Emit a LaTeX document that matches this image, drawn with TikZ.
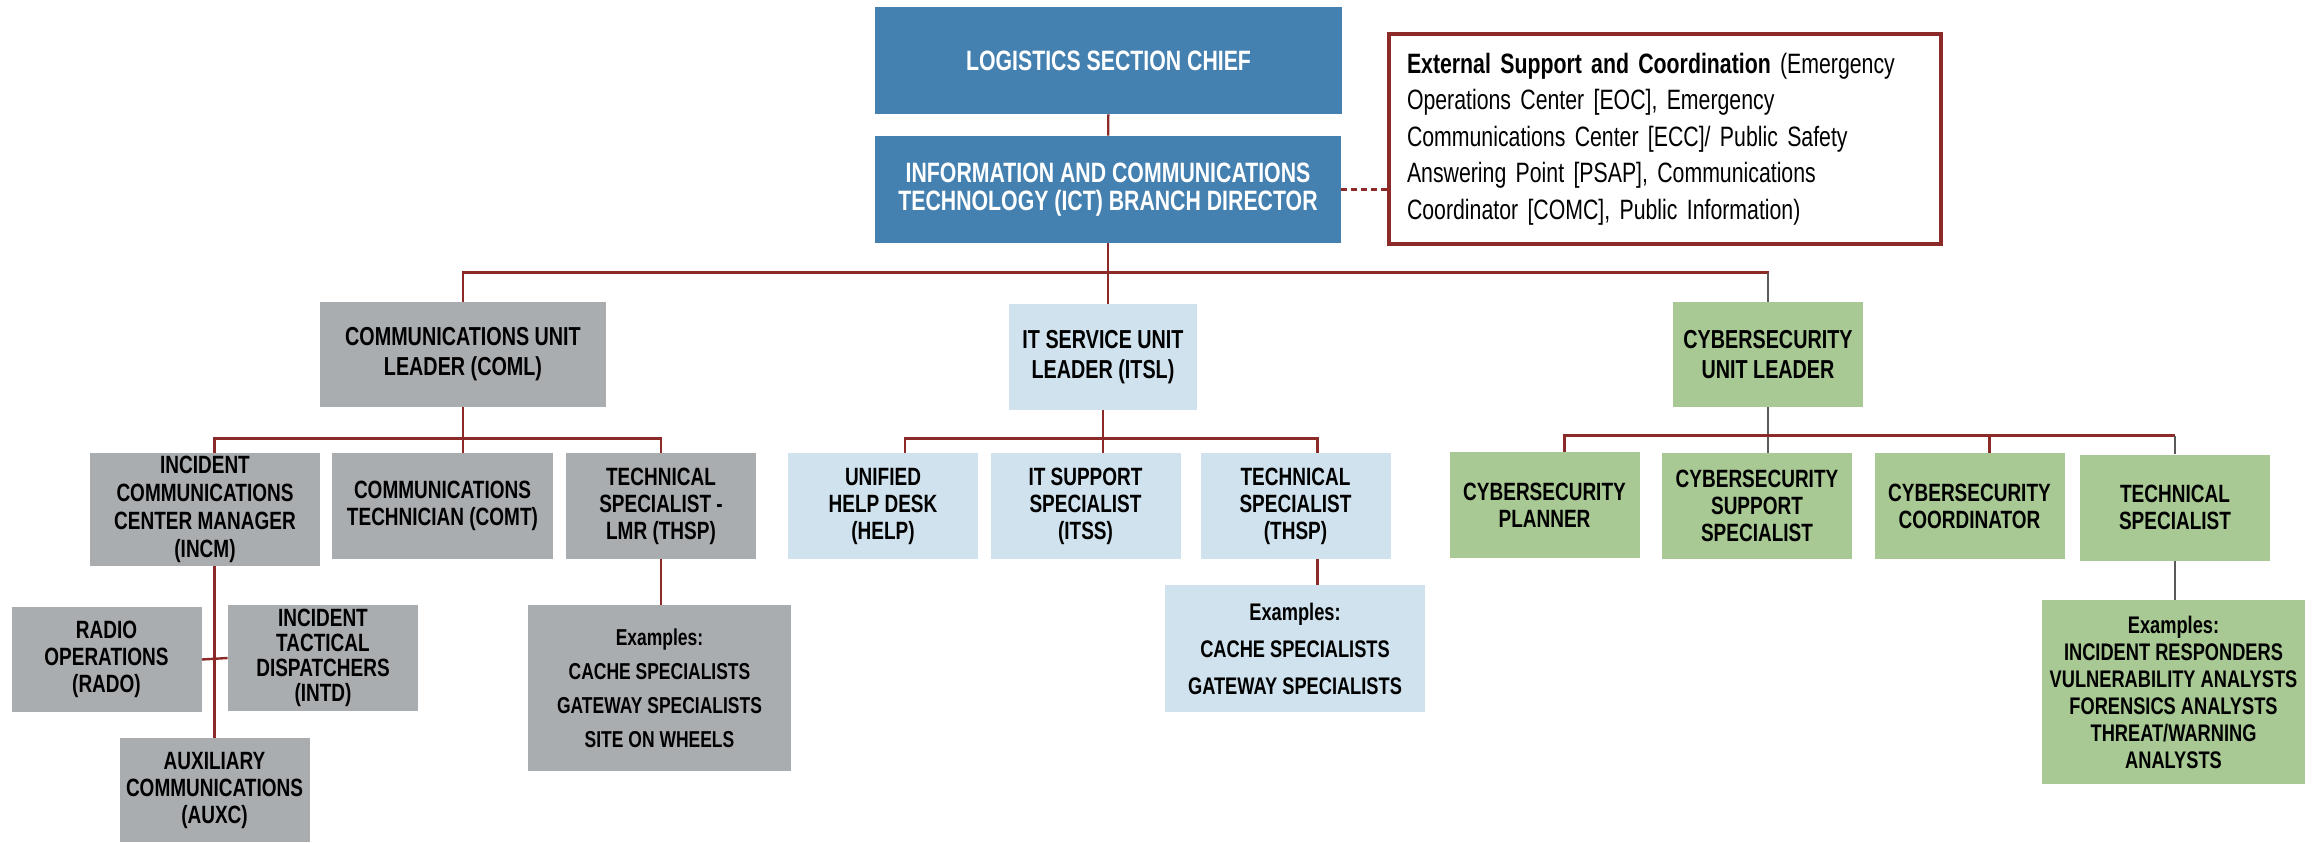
\documentclass[tikz,border=0pt]{standalone}
\usepackage{fontspec}
\newfontfamily\orgfont{Liberation Sans}[FakeStretch=0.76]
\definecolor{chiefblue}{RGB}{69,129,176}
\definecolor{unitgray}{RGB}{170,173,176}
\definecolor{itblue}{RGB}{207,226,237}
\definecolor{cybergreen}{RGB}{169,201,148}
\definecolor{linkred}{RGB}{140,42,42}
\definecolor{linkgray}{RGB}{90,90,90}
\begin{document}
\begin{tikzpicture}[
        x=0.5pt, y=-0.5pt,
        box/.style={inner sep=1pt, align=center, minimum width=95pt, minimum height=53pt,
          font=\orgfont\bfseries\fontsize{12.5}{13.5}\selectfont},
        bluebox/.style={box, fill=chiefblue, text=white, minimum height=53.5pt,
          font=\orgfont\bfseries\fontsize{14}{14}\selectfont},
        graybox/.style={box, fill=unitgray},
        itbox/.style={box, fill=itblue},
        cyberbox/.style={box, fill=cybergreen},
        unitfont/.style={font=\orgfont\bfseries\fontsize{13}{15}\selectfont},
        extbox/.style={draw=linkred, line width=2pt, fill=white, align=left,
          inner xsep=9pt, text width=258pt, minimum height=105pt,
          font=\orgfont\fontsize{14}{18.3}\selectfont},
        link/.style={draw=linkred, line width=1.2pt},
        graylink/.style={draw=linkgray, line width=0.8pt}
      ]
      \useasboundingbox (0,0) rectangle (2313,842);
      % top of the branch
      \node[bluebox, minimum width=233.5pt] (chief) at (1108.5,60.5) {LOGISTICS SECTION CHIEF};
      \node[bluebox, minimum width=233pt] (ict) at (1108,189.5) {INFORMATION AND COMMUNICATIONS\\TECHNOLOGY (ICT) BRANCH DIRECTOR};
      \node[extbox] (ext) at (1665,139) {\textbf{External Support and Coordination} (Emergency\\Operations Center [EOC], Emergency\\Communications Center [ECC]/ Public Safety\\Answering Point [PSAP], Communications\\Coordinator [COMC], Public Information)};
      % unit leaders
      \node[graybox, unitfont, minimum width=143pt, minimum height=52.5pt] (coml) at (463,354.5) {COMMUNICATIONS UNIT\\LEADER (COML)};
      \node[itbox, unitfont, minimum width=94pt] (itsl) at (1103,357) {IT SERVICE UNIT\\LEADER (ITSL)};
      \node[cyberbox, unitfont, minimum height=52.5pt] (cyl) at (1768,354.5) {CYBERSECURITY\\UNIT LEADER};
      % communications unit
      \node[graybox, minimum width=115pt, minimum height=56.5pt,
        font=\orgfont\bfseries\fontsize{12.5}{14}\selectfont] (incm) at (205,509.5) {INCIDENT\\COMMUNICATIONS\\CENTER MANAGER\\(INCM)};
      \node[graybox, minimum width=110.5pt] (comt) at (442.5,506) {COMMUNICATIONS\\TECHNICIAN (COMT)};
      \node[graybox] (lmr) at (661,506) {TECHNICAL\\SPECIALIST -\\LMR (THSP)};
      \node[graybox, minimum height=52.5pt] (rado) at (106.5,659.5) {RADIO\\OPERATIONS\\(RADO)};
      \node[graybox,
        font=\orgfont\bfseries\fontsize{12.5}{12.5}\selectfont] (intd) at (323,658) {INCIDENT\\TACTICAL\\DISPATCHERS\\(INTD)};
      \node[graybox, minimum height=52pt] (auxc) at (214.5,790) {AUXILIARY\\COMMUNICATIONS\\(AUXC)};
      \node[graybox, minimum width=131.5pt, minimum height=83pt,
        font=\orgfont\bfseries\fontsize{11.5}{17}\selectfont] (lmrex) at (659.5,688) {Examples:\\CACHE SPECIALISTS\\GATEWAY SPECIALISTS\\SITE ON WHEELS};
      % IT service unit
      \node[itbox] (help) at (883,506) {UNIFIED\\HELP DESK\\(HELP)};
      \node[itbox] (itss) at (1085.5,506) {IT SUPPORT\\SPECIALIST\\(ITSS)};
      \node[itbox] (thsp) at (1295.5,506) {TECHNICAL\\SPECIALIST\\(THSP)};
      \node[itbox, minimum width=130pt, minimum height=63.5pt,
        font=\orgfont\bfseries\fontsize{12}{18.5}\selectfont] (itex) at (1295,648.5) {Examples:\\CACHE SPECIALISTS\\GATEWAY SPECIALISTS};
      % cybersecurity unit
      \node[cyberbox] (plan) at (1544.5,505) {CYBERSECURITY\\PLANNER};
      \node[cyberbox] (supp) at (1757,506) {CYBERSECURITY\\SUPPORT\\SPECIALIST};
      \node[cyberbox] (coord) at (1969.5,506) {CYBERSECURITY\\COORDINATOR};
      \node[cyberbox] (tech) at (2175,507.5) {TECHNICAL\\SPECIALIST};
      \node[cyberbox, minimum width=131.5pt, minimum height=92pt,
        font=\orgfont\bfseries\fontsize{12}{13.5}\selectfont] (cyex) at (2173.5,692) {Examples:\\INCIDENT RESPONDERS\\VULNERABILITY ANALYSTS\\FORENSICS ANALYSTS\\THREAT/WARNING\\ANALYSTS};
      % connectors
      \draw[link] (chief) -- (ict);
      \draw[link, densely dashed] (ict.east) -- (ict.east -| ext.west);
      \draw[link] (coml.north) -- ++(0,-29) -| (cyl.north);
      \draw[graylink] (cyl.north) -- ++(0,-29);
      \draw[link] (ict.south) -- (ict.south |- itsl.north);
      \draw[link] (coml.south) -- (coml.south |- comt.north);
      \draw[link] (auxc.north |- incm.north) -- ++(0,-14) -| (lmr.north);
      \draw[link] (auxc.north |- incm.south) -- (auxc.north);
      \draw[link] (rado.east) -- (intd.west);
      \draw[link] (lmr.south) -- (lmr.south |- lmrex.north);
      \draw[link] (itsl.south) -- (itsl.south |- itss.north);
      \draw[link] ([xshift=11pt]help.north) -- ++(0,-14) -| ([xshift=11pt]thsp.north);
      \draw[link] ([xshift=11pt]thsp.south) -- ([xshift=11pt]thsp.south |- itex.north);
      \draw[graylink] (cyl.south) -- (cyl.south |- supp.north);
      \draw[link] ([xshift=10pt]plan.north) -- ++(0,-16) coordinate (cbus) -- (cbus -| tech.north);
      \draw[link] ([xshift=10pt]coord.north) -- ([xshift=10pt]coord.north |- cbus);
      \draw[graylink] (tech.north) -- (tech.north |- cbus);
      \draw[graylink] (tech.south) -- (tech.south |- cyex.north);
\end{tikzpicture}
\end{document}
